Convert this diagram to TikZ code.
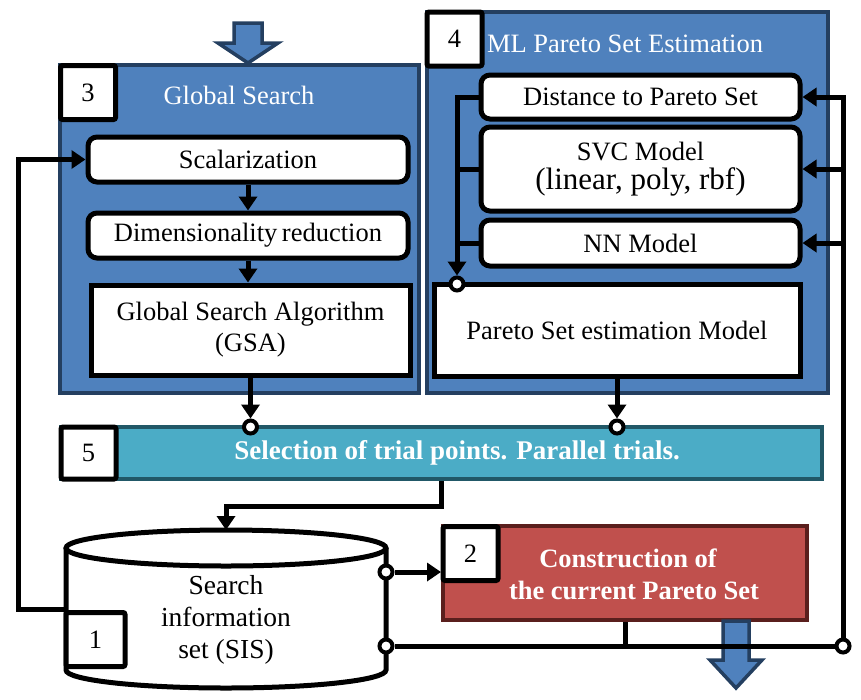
\documentclass[tikz,border=0pt]{standalone}
\usepackage{fontspec}
\setmainfont{Liberation Serif}
\usetikzlibrary{arrows.meta,calc}
\definecolor{myblue}{HTML}{4F81BD}
\definecolor{navyb}{HTML}{243F60}
\definecolor{tealf}{HTML}{4BACC6}
\definecolor{tealb}{HTML}{215867}
\definecolor{redf}{HTML}{C0504D}
\definecolor{redb}{HTML}{5A1F1D}
\newcommand{\fsz}{\fontsize{26.5}{31}\selectfont}
\tikzset{
  container/.style={draw=navyb, fill=myblue, line width=4pt, inner sep=0pt},
  wbox/.style={draw, fill=white, line width=5pt, rounded corners=9pt, inner sep=0pt, font=\fsz, align=center},
  sbox/.style={draw, fill=white, line width=5pt, inner sep=0pt, font=\fsz, align=center},
  numbox/.style={draw, fill=white, line width=5pt, rounded corners=2pt, inner sep=0pt, font=\fsz, minimum width=55pt, minimum height=54pt},
  conn/.style={line width=5pt},
  arr/.style={line width=5pt, -{Triangle[length=14pt,width=18pt]}},
  odot/.style={circle, draw, fill=white, line width=4pt, inner sep=0pt, minimum size=13pt},
  wtext/.style={text=white, font=\fsz, inner sep=0pt},
  bigarrow/.style={draw=navyb, fill=myblue, line width=3.5pt, line join=miter}
}
\begin{document}
\begin{tikzpicture}[x=1pt,y=-1pt]
\useasboundingbox (0,0) rectangle (861,699);
% containers
\node[container, minimum width=359pt, minimum height=328pt] (gsbox) at (239.5,229) {};
\node[container, minimum width=401pt, minimum height=381pt] (mlbox) at (627.5,202.5) {};
% top big arrow
\draw[bigarrow] (234,23) -- (262,23) -- (262,43) -- (278,43) -- (248,63) -- (218,43) -- (234,43) -- cycle;
% number boxes
\node[numbox] (n3) at (88,92.5) {3};
\node[numbox] (n4) at (454.5,39) {4};
\node[wtext] (gstitle) at (239,95) {Global Search};
\node[wtext] (mltitle) at (625,44) {ML Pareto Set Estimation};
% global search inner
\node[wbox, minimum width=320pt, minimum height=45pt] (scal) at (248,159.5) {Scalarization};
\node[wbox, minimum width=320pt, minimum height=45pt] (dim) at (248,235.5) {Dimensionality\hspace{-2pt} reduction};
\node[sbox, minimum width=319pt, minimum height=90pt] (gsa) at (250.5,330) {Global Search Algorithm\\(GSA)};
\draw[arr] (scal.south) -- (dim.north);
\draw[arr] (dim.south) -- (dim.south |- gsa.north);
% ML inner
\node[wbox, minimum width=319pt, minimum height=44pt] (dist) at (640.5,97) {Distance to Pareto Set};
\node[wbox, minimum width=319pt, minimum height=84pt] (svc) at (640.5,169) {SVC Model\\[-2pt]{\fontsize{31}{33}\selectfont (linear, poly, rbf)}};
\node[wbox, minimum width=319pt, minimum height=46pt] (nn) at (640.5,243) {NN Model};
\node[sbox, minimum width=366pt, minimum height=92pt] (pse) at (617,330) {Pareto Set estimation Model};
\node[odot] (c5) at (457,284) {};
\draw[conn] (dist.west) -- (457,97);
\draw[conn] (svc.west) -- (457,169);
\draw[conn] (nn.west) -- (457,243);
\draw[arr] (457,95) -- (c5.north);
% selection bar
\node[draw=tealb, fill=tealf, line width=4pt, minimum width=761pt, minimum height=52pt, inner sep=0pt] (sel) at (441.5,453) {};
\node[numbox, minimum height=52pt] (n5) at (88.5,453) {5};
\node[text=white, font=\fontsize{27}{31}\selectfont\bfseries, inner sep=0pt] (seltext) at (457,453) {Selection of trial points. Parallel trials.};
\node[odot] (c1) at (250.5,427) {};
\node[odot] (c2) at (617,427) {};
\draw[arr] (gsa.south) -- (c1.north);
\draw[arr] (pse.south) -- (c2.north);
% cylinder
\fill[white] (66,548) -- (66,670) arc[start angle=180,end angle=0,x radius=160,y radius=18] -- (386,548) -- cycle;
\draw[line width=5pt] (66,548) -- (66,670) arc[start angle=180,end angle=0,x radius=160,y radius=18] -- (386,548);
\draw[line width=5pt, fill=white] (226,548) ellipse[x radius=160, y radius=18];
\node[minimum width=320pt, minimum height=122pt, inner sep=0pt] (sis) at (226,609) {};
\coordinate (sistop) at (226,530);
\node[font=\fontsize{27.5}{32}\selectfont, align=center, inner sep=0pt] (sistext) at (226,620) {Search\\information\\set (SIS)};
\node[numbox, minimum width=59pt] (n1) at (95.5,639.5) {1};
% red box
\node[draw=redb, fill=redf, line width=4pt, minimum width=364pt, minimum height=94pt, inner sep=0pt] (red) at (625,573) {};
\node[numbox] (n2) at (470.5,553.5) {2};
\node[text=white, font=\fontsize{26.5}{32}\selectfont\bfseries, align=center, inner sep=0pt] (redtext) at (628,574) {Construction of\\\hspace*{12pt}the current Pareto Set};
% bottom big arrow
\draw[bigarrow] (723,621) -- (749,621) -- (749,660) -- (762,660) -- (736,688) -- (710,660) -- (723,660) -- cycle;
% connectors
\draw[arr] (sel.south) -- ++(0,25) -| (sistop);
\draw[arr] (sis.west) -- ++(-47,0) |- (scal.west);
\node[odot] (c3) at (386,572) {};
\node[odot] (c4) at (386,646) {};
\node[odot] (rb) at (843,646) {};
\draw[arr] (c3.east) -- (red.west |- c3);
\draw[conn] (c4.east) -- (rb.west);
\draw[conn] (red.south) -- (red.south |- c4);
\draw[conn] (rb.north) -- (843,94.5);
\draw[arr] (843,97) -- (dist.east);
\draw[arr] (843,169) -- (svc.east);
\draw[arr] (843,243) -- (nn.east);
\end{tikzpicture}
\end{document}
